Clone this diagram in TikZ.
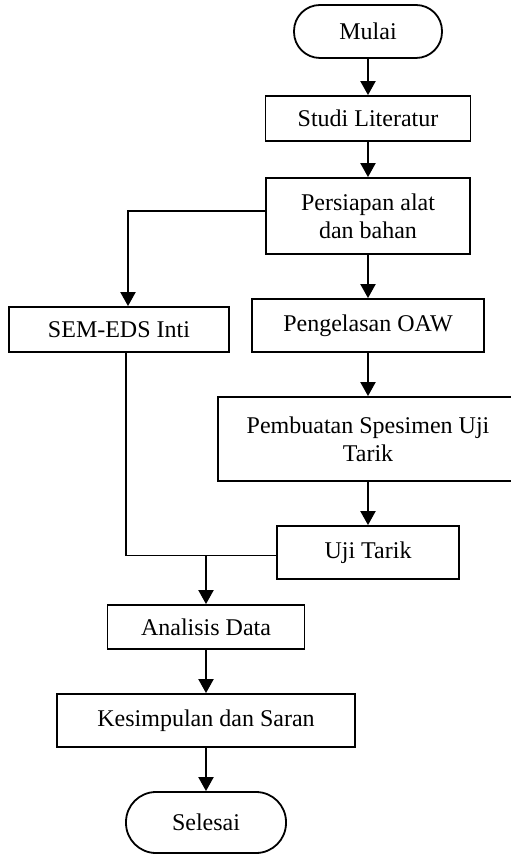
\documentclass[tikz,border=0pt]{standalone}
\usepackage{fontspec}
\setmainfont{Liberation Serif}
\usetikzlibrary{arrows.meta}

\begin{document}
\begin{tikzpicture}[x=0.5pt,y=-0.5pt,
    stepbox/.style={draw,line width=0.9pt,minimum height=22.5pt,
                    inner sep=2pt,align=center,
                    font=\fontsize{12}{13.8}\selectfont},
    term/.style={stepbox,rounded corners=13pt},
    arr/.style={-{Triangle[width=7.5pt,length=7pt]},line width=1pt},
    link/.style={line width=0.8pt}]
    \useasboundingbox (0,0) rectangle (510,854);
    % kolom kanan
    \node[term,minimum width=74pt,minimum height=26.5pt]     (mulai)      at (368,31.5)  {Mulai};
    \node[stepbox,minimum width=102.5pt]                     (studi)      at (368,118.5) {Studi Literatur};
    \node[stepbox,minimum width=102pt,minimum height=38pt]   (persiapan)  at (368,216)   {Persiapan alat\\dan bahan};
    \node[stepbox,minimum width=116pt,minimum height=26.5pt] (pengelasan) at (368,325.5) {Pengelasan OAW};
    \node[stepbox,minimum width=150pt,minimum height=42pt]   (pembuatan)  at (368,439)   {Pembuatan Spesimen Uji\\Tarik};
    \node[stepbox,minimum width=91pt,minimum height=26.5pt]  (uji)        at (368,552.5) {Uji Tarik};
    % kolom kiri
    \node[stepbox,minimum width=110pt]                       (sem)        at (119,329.5) {SEM-EDS Inti};
    \node[stepbox,minimum width=98.5pt,minimum height=22pt]  (analisis)   at (206,627)   {Analisis Data};
    \node[stepbox,minimum width=149pt,minimum height=26.5pt] (kesimpulan) at (206,720.5) {Kesimpulan dan Saran};
    \node[term,minimum width=80pt,minimum height=30.5pt,rounded corners=15pt] (selesai) at (206,822.5) {Selesai};

    \foreach \a/\b in {mulai/studi,studi/persiapan,persiapan/pengelasan,
                       pengelasan/pembuatan,pembuatan/uji,
                       analisis/kesimpulan,kesimpulan/selesai}
      \draw[arr] (\a) -- (\a |- \b.north);

    \draw[arr] ([yshift=2.5pt]persiapan.west) -| ([xshift=4.5pt]sem.north);
    \draw[link] ([xshift=3.5pt]sem.south) |- ([yshift=-1.5pt]uji.west);
    \draw[arr] ([yshift=-1.5pt]uji.west -| analisis) -- (analisis);
\end{tikzpicture}
\end{document}
